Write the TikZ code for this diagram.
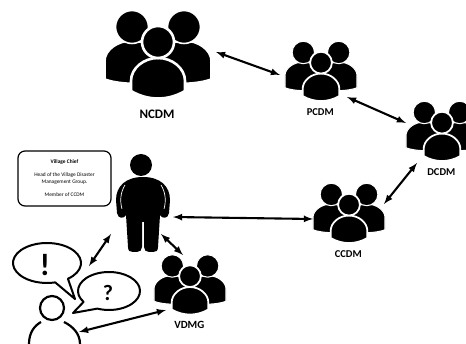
\documentclass[tikz,border=0pt]{standalone}
\usepackage{fontspec}
\setmainfont{Carlito}
\usetikzlibrary{arrows, positioning}
\tikzset{
  piece/.style={% Style for the parts of a group icon
      fill=black,
      draw=white,
  },
  link/.style={
      <->,>=latex,
      line width=2.1pt,
  },
  bubble/.style={
      fill=white,
      draw=black,
      line width=2pt,
      line join=round,
  },
  chiefbox/.style={
      rectangle,
      rounded corners=7pt,
      draw=black,
      line width=1.2pt,
      align=center,
      font=\fontsize{5.4}{7}\selectfont,
      minimum width=93pt,
      minimum height=55pt,
      inner sep=0pt,
  },
  grouplabel/.style={
      font=\bfseries\fontsize{#1}{#1}\selectfont,
      inner sep=0pt,
  },
}
\def\crowd(#1)#2[#3]#4{%
  \begin{scope}[shift={(#1)}, scale=#3]
    \node[inner sep=0pt] (#2) at (0,0) {};
    \foreach \s in {-1,1} {% Two persons at the back
      \begin{scope}[xscale=\s]
        \filldraw[piece, line width=#3*1.6pt] (-53,24) -- (-53,6)
          .. controls (-53,-5) and (-40,-14) .. (-26,-14)
          .. controls (-12,-14) and (0,-5) .. (0,6) -- (0,28)
          .. controls (-18,29) and (-40,29) .. (-53,24) -- cycle;
        \filldraw[piece, line width=#3*1.6pt] (-26,-28) circle (16.5);
      \end{scope}
    }
    % Person at the front, the white line keeps it apart from the others
    \filldraw[piece, line width=#3*2.6pt] (-27,36) -- (-27,26)
      .. controls (-27,13) and (-14,3) .. (0,3)
      .. controls (14,3) and (27,13) .. (27,26) -- (27,36)
      .. controls (10,46) and (-10,46) .. (-27,36) -- cycle;
    \filldraw[piece, line width=#3*2.6pt] (0,-13) circle (16);
    \node[grouplabel=#4] (#2label) at (-1,59) {#2};
  \end{scope}
}

\begin{document}
\begin{tikzpicture}[x=1pt, y=-1pt]
    \useasboundingbox (0,0) rectangle (466,344);
    \clip (0,0) rectangle (466,344);
    \crowd(158,55){NCDM}[1]{13}
    \crowd(321,71.5){PCDM}[.68]{10.5}
    \crowd(442,131.5){DCDM}[.68]{10.5}
    \crowd(349,213.5){CCDM}[.68]{10.5}
    \crowd(190,285){VDMG}[.68]{11}
    % Village chief
    \node[inner sep=0pt] (chief) at (143,208) {};
    \fill (141,165) circle (11);
    \fill (143,177) .. controls (126,177) and (116,186) .. (116,200)
      -- (117,213) .. controls (118,219) and (124,219) .. (126,215)
      -- (128,247) .. controls (128,251) and (130,252) .. (133,252)
      -- (137,252) .. controls (140,252) and (142,250) .. (142,247)
      -- (142,222) -- (144,222) -- (144,247)
      .. controls (144,250) and (146,252) .. (149,252)
      -- (153,252) .. controls (156,252) and (158,251) .. (158,247)
      -- (160,215) .. controls (162,219) and (168,219) .. (169,213)
      -- (170,200) .. controls (170,186) and (160,177) .. (143,177) -- cycle;
    \draw[white, line width=.7pt] (125,185) .. controls (120,193) and (120,202) .. (122,209);
    \draw[white, line width=.7pt] (161,185) .. controls (166,193) and (166,202) .. (164,209);
    \node[chiefbox] (chiefinfo) at (64.5,178.5) {%
      \textbf{Village Chief}\\[6pt]
      Head of the Village Disaster\\
      Management Group.\\[6pt]
      Member of CCDM};
    % Villager with the two speech bubbles
    \node[inner sep=0pt] (villager) at (54,325) {};
    \draw[bubble] ([shift={(52:34 and 20)}]47,263)
      arc[start angle=52, end angle=-284, x radius=34, y radius=20]
      -- (75,299) -- cycle;
    \node[font=\bfseries\fontsize{31}{31}\selectfont, inner sep=0pt] (alert) at (45,265) {!};
    \draw[bubble] ([shift={(145:31 and 19)}]109,291)
      arc[start angle=145, end angle=472, x radius=31, y radius=19]
      -- (73,313) -- cycle;
    \node[font=\bfseries\fontsize{22}{22}\selectfont, inner sep=0pt] (query) at (108,293) {?};
    \draw[line width=2.2pt] (52,308) circle (12);
    \draw[line width=2.2pt] (29,344) .. controls (29,333) and (34,326) .. (41,322);
    \draw[line width=2.2pt] (80,344) .. controls (80,333) and (72,326) .. (64,322);
    % Links
    \draw[link] ([shift={(58,-3)}]NCDM.center) -- ([shift={(-41,3.5)}]PCDM.center);
    \draw[link] ([shift={(26,25.5)}]PCDM.center) -- ([shift={(-36,-8.5)}]DCDM.center);
    \draw[link] ([shift={(-25,31.5)}]DCDM.center) -- ([shift={(35,-9.5)}]CCDM.center);
    \draw[link] ([shift={(30,9)}]chief.center) -- ([shift={(-36,5.5)}]CCDM.center);
    \draw[link] ([shift={(18,26)}]chief.center) -- ([shift={(-7,-30)}]VDMG.center);
    \draw[link] ([shift={(-32,26)}]chief.center) -- ([shift={(35,-59)}]villager.center);
    \draw[link] ([shift={(25,7)}]villager.center) -- ([shift={(-24,25)}]VDMG.center);
\end{tikzpicture}
\end{document}
